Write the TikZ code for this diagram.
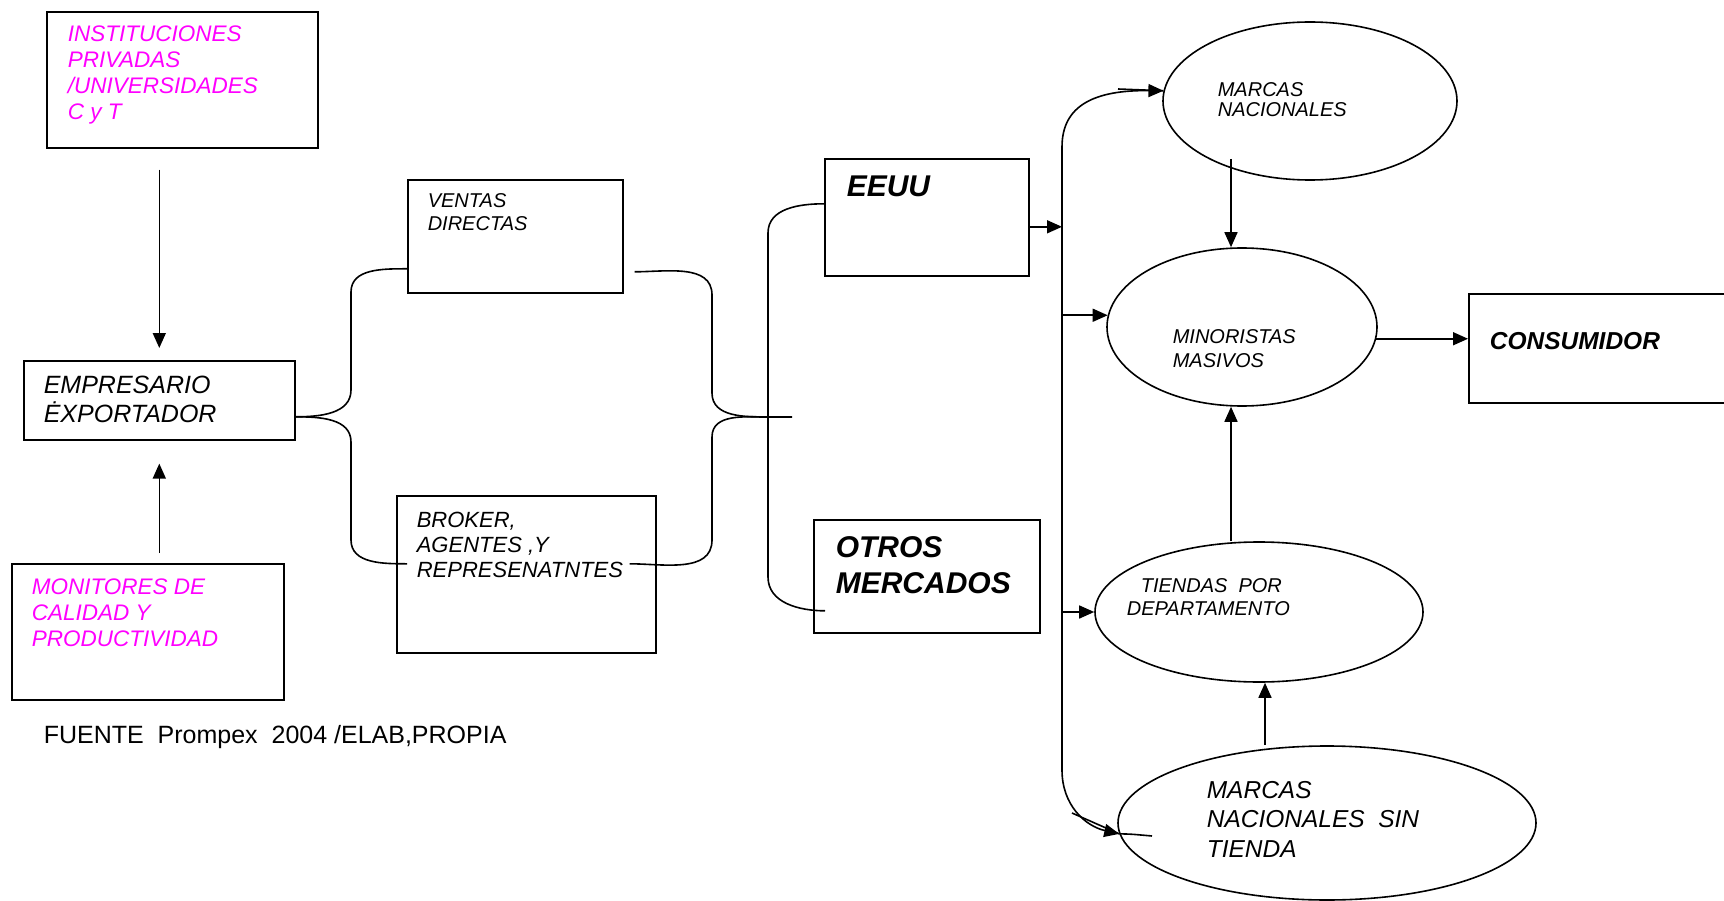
\documentclass[tikz,border=0pt]{standalone}
\usepackage{fontspec}
\setmainfont{Liberation Sans}
\usetikzlibrary{arrows.meta,shapes.geometric}
\definecolor{instMag}{RGB}{255,0,255}

\begin{document}
\begin{tikzpicture}[
    x=1pt, y=-1pt,
    line width=1.6pt,
    box node/.style={rectangle, draw, line width=1.6pt, inner sep=0pt, anchor=north west},
    oval node/.style={ellipse, draw, line width=1.6pt, inner sep=0pt},
    text note/.style={anchor=base west, align=left, inner sep=0pt},
    pink note/.style={text note, text=instMag, font=\fontsize{22.5}{26}\selectfont\itshape},
    arr/.style={-{Triangle[length=15pt,width=13pt]}}
]
  \useasboundingbox (0,0) rectangle (1724,901);

  % boxes
  \node[box node, minimum width=271pt, minimum height=136pt] (inst) at (46,11) {};
  \node[box node, minimum width=271pt, minimum height=79pt] (emp) at (23,360) {};
  \node[box node, minimum width=272pt, minimum height=136pt] (mon) at (11,563) {};
  \node[box node, minimum width=215pt, minimum height=113pt] (ventas) at (407,179) {};
  \node[box node, minimum width=259pt, minimum height=157pt] (broker) at (396,495) {};
  \node[box node, minimum width=204pt, minimum height=117pt] (eeuu) at (824,158) {};
  \node[box node, minimum width=226pt, minimum height=113pt] (otros) at (813,519) {};
  \node[box node, minimum width=300pt, minimum height=109pt] (cons) at (1468,293) {};

  % ovals
  \node[oval node, minimum width=294pt, minimum height=158pt] (mnac) at (1310,101) {};
  \node[oval node, minimum width=270pt, minimum height=158pt] (mino) at (1242,327) {};
  \node[oval node, minimum width=328pt, minimum height=140pt] (tiend) at (1259,612) {};
  \node[oval node, minimum width=418pt, minimum height=154pt] (msin) at (1327,823) {};

  % texts (placed at the baseline of their last line)
  \node[pink note] (inst-t) at (67,120) {INSTITUCIONES\\PRIVADAS\\/UNIVERSIDADES\\C y T};
  \node[text note, font=\fontsize{25}{29}\selectfont\itshape] (emp-t) at (43,422) {EMPRESARIO\\ĖXPORTADOR};
  \node[pink note] (mon-t) at (31,646) {MONITORES DE\\CALIDAD Y\\PRODUCTIVIDAD};
  \node[text note, font=\fontsize{20}{23}\selectfont\itshape] (ventas-t) at (427,231) {VENTAS\\DIRECTAS};
  \node[text note, font=\fontsize{22}{25}\selectfont\itshape] (broker-t) at (416,577) {BROKER,\\AGENTES ,Y\\REPRESENATNTES};
  \node[text note, font=\fontsize{30}{36}\selectfont\bfseries\itshape] (eeuu-t) at (846,197) {EEUU};
  \node[text note, font=\fontsize{30}{36}\selectfont\bfseries\itshape] (otros-t) at (835,593) {OTROS\\MERCADOS};
  \node[text note, font=\fontsize{20}{20.6}\selectfont\itshape] (mnac-t) at (1217,117) {MARCAS\\NACIONALES};
  \node[text note, font=\fontsize{20}{24}\selectfont\itshape] (mino-t) at (1172,367) {MINORISTAS\\MASIVOS};
  \node[text note, font=\fontsize{20}{23}\selectfont\itshape] (tiend-t) at (1126,615) {\hspace*{14pt}TIENDAS\ \ POR\\DEPARTAMENTO};
  \node[text note, font=\fontsize{24.5}{29.5}\selectfont\itshape] (msin-t) at (1206,857) {MARCAS\\NACIONALES\ \ SIN\\TIENDA};
  \node[text note, font=\fontsize{24.5}{29}\selectfont\bfseries\itshape] (cons-t) at (1489,349) {CONSUMIDOR};
  \node[text note, font=\fontsize{25}{29}\selectfont] (src-t) at (43,743) {FUENTE\ \ Prompex\ \ 2004 /ELAB,PROPIA};

  % support arrows
  \draw[arr, shorten <=21pt, shorten >=12pt] (inst.south -| emp.north) -- (emp.north);
  \draw[arr, shorten <=10pt, shorten >=23pt] (mon.north -| emp.south) -- (emp.south);

  % braces
  \coordinate (brL) at ([yshift=-16.5pt]emp.east);
  \coordinate (vL) at ([yshift=-32.5pt]ventas.west);
  \coordinate (bL) at ([xshift=11pt,yshift=10.5pt]broker.west);
  \draw (brL) to[out=0,in=-90] (351,390) -- (351,292) to[out=90,in=180] (vL);
  \draw (brL) to[out=0,in=90] (351,442) -- (351,540) to[out=-90,in=180] (bL);

  \coordinate (vR) at ([xshift=11pt,yshift=-35.5pt]ventas.east);
  \coordinate (bR) at ([xshift=-27pt,yshift=10.5pt]broker.east);
  \coordinate (brR) at (770,417);
  \coordinate (brS) at (792,417);
  \draw (vR) to[out=0,in=90] (712,295) -- (712,393) to[out=-90,in=180] (brR) -- (brS);
  \draw (bR) to[out=0,in=-90] (712,540) -- (712,437) to[out=90,in=180] (brR);

  \coordinate (eL) at ([yshift=13.5pt]eeuu.west);
  \coordinate (oL) at ([xshift=12pt,yshift=-34.5pt]otros.west);
  \draw (eL) to[out=180,in=90] (768,233) -- (768,577) to[out=-90,in=180] (oL);

  % distribution line
  \coordinate (busA) at (1062,147);
  \coordinate (busB) at (1062,770);
  \draw (busA) -- (busB);
  \draw[arr] (busA) .. controls (1062,105) and (1095,90) .. (mnac.176);
  \coordinate (stubA) at (1118,89);
  \draw (stubA) -- (mnac.176);
  \coordinate (ex) at ([yshift=-9.5pt]eeuu.east);
  \draw[arr] (ex) -- (ex -| busA);
  \draw[arr] (mino.175 -| busA) -- (mino.175);
  \draw[arr] (tiend.west -| busA) -- (tiend.west);
  \draw[arr] (busB) .. controls (1062,805) and (1085,826) .. (msin.183);
  \coordinate (strayS) at (1072,813);
  \coordinate (tailE) at (1152,836);
  \draw (strayS) -- (msin.183);
  \draw (msin.183) .. controls (1130,834) .. (tailE);

  % retail links
  \coordinate (mx) at ([xshift=-11pt]mino.south);
  \coordinate (sx) at ([xshift=-62pt]msin.north);
  \draw[arr] ([xshift=-79pt,yshift=22pt]mnac.south) -- ([xshift=-11pt]mino.north);
  \draw[arr] (mx |- tiend.north) -- (mx);
  \draw[arr] (sx) -- (sx |- tiend.south);
  \draw[arr] (mino.-5) -- (mino.-5 -| cons.west);
\end{tikzpicture}
\end{document}
